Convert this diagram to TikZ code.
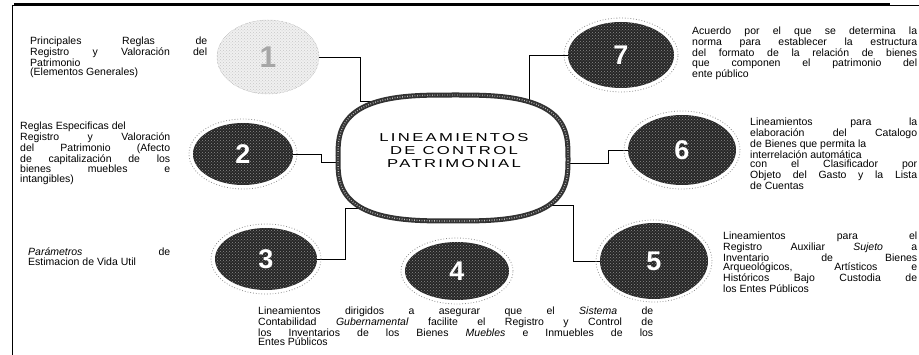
\documentclass[tikz,border=0pt]{standalone}
\usepackage{fontspec}
\setmainfont{Liberation Sans}
\newfontfamily\digitfont{Liberation Sans}
\newfontfamily\titlefont{Liberation Sans}[FakeStretch=1.45,LetterSpace=20]
\usetikzlibrary{shapes.geometric,patterns,backgrounds}
\newcommand\jl[1]{\makebox[\hsize][s]{\spaceskip=0pt\xspaceskip=0pt\relax #1}}
\newcommand\sblock[2]{\parbox[t]{#1}{\fontsize{10.5}{9.6}\selectfont\parindent=0pt #2}}
\begin{document}
\begin{tikzpicture}[x=1pt,y=-1pt,
  blk/.style={anchor=base west, inner sep=0pt},
  numdark/.style={ellipse, inner sep=0pt, fill=black!85,
     postaction={pattern=crosshatch dots, pattern color=black!45},
     text=white, font=\digitfont\bfseries\fontsize{27}{27}\selectfont},
  numlight/.style={ellipse, inner sep=0pt, fill=black!6, draw=black!45, densely dotted,
     postaction={pattern=crosshatch dots, pattern color=black!22},
     text=black!35, font=\digitfont\bfseries\fontsize{30}{30}\selectfont},
  halo/.style={draw=black!45, dotted, line width=0.8pt},
  conn/.style={draw=black, line width=0.9pt},
  ring/.style={draw=black!80, line width=5pt, fill=white},
  ringtex/.style={draw=white!75!black, line width=1.4pt, dash pattern=on 0.7pt off 1.8pt},
  titletext/.style={align=center, inner sep=0pt, font=\titlefont\fontsize{11.5}{13}\selectfont}]
\useasboundingbox (0,0) rectangle (919,355);
% frame
\draw[line width=0.8pt] (12,5) -- (919,5);
\draw[line width=2.6pt] (14,4) -- (890,4);
\draw[line width=1pt] (12,5) -- (12,355);
% numbered ellipses
\node[numlight, minimum width=102pt, minimum height=74pt] (n1) at (268,57) {1};
\node[numdark, minimum width=100pt, minimum height=62pt] (n2) at (243,154) {2};
\node[numdark, minimum width=102pt, minimum height=62pt] (n3) at (266,259) {3};
\node[numdark, minimum width=104pt, minimum height=58pt] (n4) at (457,271) {4};
\node[numdark, minimum width=108pt, minimum height=76pt] (n5) at (654,261) {5};
\node[numdark, minimum width=108pt, minimum height=70pt] (n6) at (682,150) {6};
\node[numdark, minimum width=106pt, minimum height=66pt] (n7) at (621,55) {7};
\foreach \n/\a/\b in {n2/54/35, n3/55/35, n4/56/33, n5/58/41, n6/58/39, n7/57/37}
  \draw[halo] (\n.center) ellipse [x radius=\a pt, y radius=\b pt];
% centre
\coordinate (cc) at (453,158);
\begin{pgfonlayer}{background}
\draw[conn] (n1.east) -| (360,101) -- (400,101);
\draw[conn] (n2.east) -| (321,162) -- (380,162);
\draw[conn] (n3.east) -| (345,208) -- (400,208);
\draw[conn] (n5.west) -| (573,205) -- (510,205);
\draw[conn] (n6.west) -| (608,163) -- (530,163);
\draw[conn] (n7.west) -| (529,130);
\end{pgfonlayer}
\begin{scope}[shift={(cc)}]
\draw[ring] plot[domain=0.5:360.5, samples=181]
  ({115*sign(cos(\x))*pow(abs(cos(\x)),0.667)}, {63*sign(sin(\x))*pow(abs(sin(\x)),0.667)}) -- cycle;
\draw[ringtex] plot[domain=0.5:360.5, samples=181]
  ({115*sign(cos(\x))*pow(abs(cos(\x)),0.667)}, {63*sign(sin(\x))*pow(abs(sin(\x)),0.667)}) -- cycle;
\end{scope}
\node[titletext] (c) at (454,151) {LINEAMIENTOS\\DE CONTROL\\PATRIMONIAL};
% texts
\node[blk] (t1) at (30,44.5) {\sblock{177pt}{\jl{Principales Reglas de}\\\jl{Registro y Valoración del}\\Patrimonio\\(Elementos Generales)}};
\node[blk] (t2) at (20,129.5) {\sblock{150pt}{Reglas Especificas del\\\jl{Registro y Valoración}\\\jl{del Patrimonio (Afecto}\\\jl{de capitalización de los}\\\jl{bienes muebles e}\\intangibles)}};
\node[blk] (t3) at (28,255.5) {\sblock{142pt}{\jl{\textit{Parámetros} de}\\Estimacion de Vida Util}};
\node[blk] (t4) at (258,314.5) {\sblock{395pt}{\jl{Lineamientos dirigidos a asegurar que el \textit{Sistema} de}\\\jl{Contabilidad \textit{Gubernamental} facilite el Registro y Control de}\\\jl{los Inventarios de los Bienes \textit{Muebles} e Inmuebles de los}\\Entes Públicos}};
\node[blk] (t5) at (723,239.5) {\sblock{194pt}{\jl{Lineamientos para el}\\\jl{Registro Auxiliar \textit{Sujeto} a}\\\jl{Inventario de Bienes}\\\jl{Arqueológicos, Artísticos e}\\\jl{Históricos Bajo Custodia de}\\los Entes Públicos}};
\node[blk] (t6) at (750,125.5) {\sblock{167pt}{\jl{Lineamientos para la}\\\jl{elaboración del Catalogo}\\de Bienes que permita la\\interrelación automática\\\jl{con el Clasificador por}\\\jl{Objeto del Gasto y la Lista}\\de Cuentas}};
\node[blk] (t7) at (692,35) {\sblock{225pt}{\jl{Acuerdo por el que se determina la}\\\jl{norma para establecer la estructura}\\\jl{del formato de la relación de bienes}\\\jl{que componen el patrimonio del}\\ente público}};
\end{tikzpicture}
\end{document}
